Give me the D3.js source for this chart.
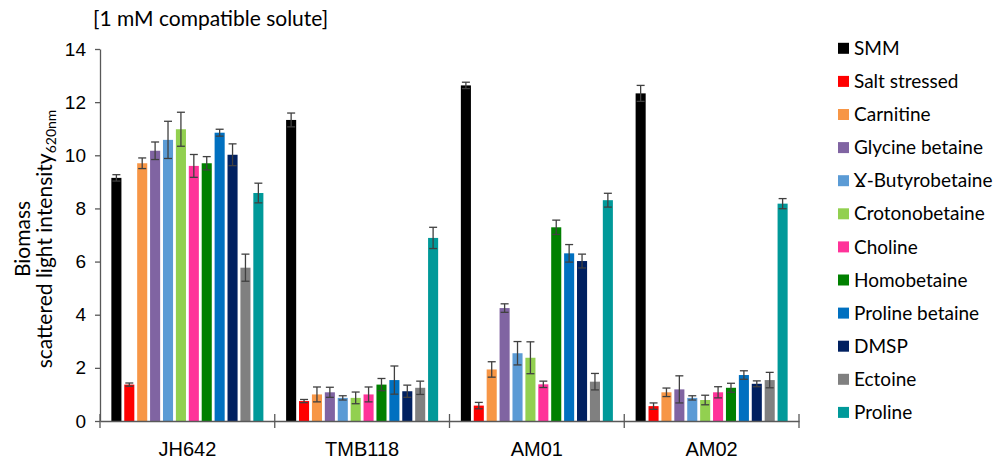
<!DOCTYPE html>
<html>
<head>
<meta charset="utf-8">
<script src="https://cdn.jsdelivr.net/npm/d3@7"></script>
<style>
  html, body { margin: 0; padding: 0; background: #fff; }
  svg { display: block; font-family: Lato, "Open Sans", sans-serif; }
  .axis text { fill: #000; }
</style>
</head>
<body>
<div id="chart"></div>
<script>
// groups (strains) and the treatments shown for each
var strains = ["JH642", "TMB118", "AM01", "AM02"];
var treatments = ["SMM", "Salt stressed", "Carnitine", "Glycine betaine", "Ɣ-Butyrobetaine",
    "Crotonobetaine", "Choline", "Homobetaine", "Proline betaine", "DMSP", "Ectoine", "Proline"];
var colors = ["#000000", "#ff0000", "#f79646", "#8064a2", "#5b9bd5", "#92d050",
    "#ff3399", "#008000", "#0070c0", "#002060", "#808080", "#009999"];

// mean biomass, one row per strain, in treatment order
var means = [
    [9.15, 1.37, 9.70, 10.17, 10.58, 10.98, 9.60, 9.70, 10.85, 10.02, 5.77, 8.58],
    [11.33, 0.75, 1.00, 1.08, 0.87, 0.87, 1.00, 1.37, 1.54, 1.12, 1.25, 6.89],
    [12.63, 0.58, 1.94, 4.25, 2.55, 2.38, 1.38, 7.29, 6.31, 6.02, 1.48, 8.31],
    [12.33, 0.56, 1.08, 1.19, 0.87, 0.79, 1.08, 1.25, 1.73, 1.40, 1.54, 8.18]
];
// standard deviations
var errors = [
    [0.12, 0.06, 0.20, 0.33, 0.70, 0.64, 0.43, 0.25, 0.13, 0.41, 0.51, 0.37],
    [0.26, 0.06, 0.28, 0.19, 0.08, 0.22, 0.28, 0.23, 0.53, 0.23, 0.25, 0.40],
    [0.12, 0.12, 0.29, 0.16, 0.44, 0.60, 0.12, 0.27, 0.33, 0.26, 0.31, 0.26],
    [0.30, 0.12, 0.16, 0.51, 0.08, 0.18, 0.21, 0.17, 0.16, 0.11, 0.29, 0.19]
];
var yTicks = [0, 2, 4, 6, 8, 10, 12, 14];

(function(){
    "use strict";
    var width = 997, height = 461;
    var margin = {left: 100, right: 198, top: 49, bottom: 40};
    var axisColor = "#595959";

    var svg = d3.select("#chart").append("svg")
        .attr("width", width)
        .attr("height", height);

    //scales
    var x0 = d3.scaleBand()
        .domain(strains)
        .range([margin.left, width - margin.right])
        .padding(0);
    var x1 = d3.scaleBand()
        .domain(treatments)
        .range([0, x0.bandwidth()])
        .paddingInner(0.22)
        .paddingOuter(0.88);
    var y = d3.scaleLinear()
        .domain([0, 14])
        .range([height - margin.bottom, margin.top]);

    //flatten the data for drawing
    var rows = [];
    strains.forEach(function(s, i){
        treatments.forEach(function(t, j){
            rows.push({strain: s, treatment: t, color: colors[j], value: means[i][j], err: errors[i][j]});
        });
    });

    //bars
    svg.append("g").selectAll("rect")
        .data(rows)
        .enter().append("rect")
        .attr("x", function(d){ return x0(d.strain) + x1(d.treatment); })
        .attr("y", function(d){ return y(d.value); })
        .attr("width", x1.bandwidth())
        .attr("height", function(d){ return y(0) - y(d.value); })
        .attr("fill", function(d){ return d.color; });

    //error bars
    var eb = svg.append("g")
        .attr("stroke", "#404040")
        .attr("stroke-width", 1.3)
        .selectAll("g")
        .data(rows)
        .enter().append("g")
        .attr("transform", function(d){
            return "translate(" + (x0(d.strain) + x1(d.treatment) + x1.bandwidth() / 2) + ",0)";
        });
    eb.append("line")
        .attr("y1", function(d){ return y(d.value + d.err); })
        .attr("y2", function(d){ return y(d.value - d.err); });
    eb.append("line")
        .attr("x1", -4).attr("x2", 4)
        .attr("y1", function(d){ return y(d.value + d.err); })
        .attr("y2", function(d){ return y(d.value + d.err); });
    eb.append("line")
        .attr("x1", -4).attr("x2", 4)
        .attr("y1", function(d){ return y(d.value - d.err); })
        .attr("y2", function(d){ return y(d.value - d.err); });

    //y axis
    var yAxis = svg.append("g")
        .attr("class", "axis")
        .attr("transform", "translate(" + margin.left + ",0)")
        .call(d3.axisLeft(y).tickValues(yTicks).tickSize(5).tickSizeOuter(0).tickPadding(9));
    yAxis.selectAll("line, path").attr("stroke", axisColor).attr("stroke-width", 1.3);
    yAxis.selectAll("text").style("font-size", "19px");

    //x axis with group labels
    var xAxis = svg.append("g")
        .attr("class", "axis")
        .attr("transform", "translate(0," + y(0) + ")")
        .call(d3.axisBottom(x0).tickSize(0).tickSizeOuter(0).tickPadding(21));
    xAxis.select("path").attr("stroke", axisColor).attr("stroke-width", 1.3);
    xAxis.selectAll("text").style("font-size", "20px");

    //separator ticks between groups
    var bounds = strains.map(function(s){ return x0(s); }).concat([x0.range()[1]]);
    svg.append("g").selectAll("line")
        .data(bounds)
        .enter().append("line")
        .attr("x1", function(d){ return d; })
        .attr("x2", function(d){ return d; })
        .attr("y1", y(0) - 7)
        .attr("y2", y(0) + 7)
        .attr("stroke", axisColor)
        .attr("stroke-width", 1.3);

    //title
    svg.append("text")
        .attr("x", 93)
        .attr("y", 26)
        .style("font-size", "21px")
        .text("[1 mM compatible solute]");

    //y axis title
    var yt = svg.append("text")
        .attr("transform", "translate(0," + ((margin.top + y(0)) / 2 + 4) + ") rotate(-90)")
        .attr("text-anchor", "middle")
        .style("font-size", "21px");
    yt.append("tspan").attr("x", 0).attr("y", 30).text("Biomass");
    var l2 = yt.append("tspan").attr("x", 0).attr("y", 52);
    l2.append("tspan").text("scattered light intensity");
    l2.append("tspan").attr("dy", 4).style("font-size", "14px").text("620nm");

    //legend
    var legend = svg.append("g").selectAll("g")
        .data(treatments)
        .enter().append("g")
        .attr("transform", function(d, i){ return "translate(838," + (48.3 + i * 33.1) + ")"; });
    legend.append("rect")
        .attr("x", 0).attr("y", -5.5)
        .attr("width", 11).attr("height", 11)
        .attr("fill", function(d, i){ return colors[i]; });
    legend.append("text")
        .attr("x", 16)
        .attr("dy", "0.35em")
        .style("font-size", "19px")
        .text(function(d){ return d; });
})();
</script>
</body>
</html>
